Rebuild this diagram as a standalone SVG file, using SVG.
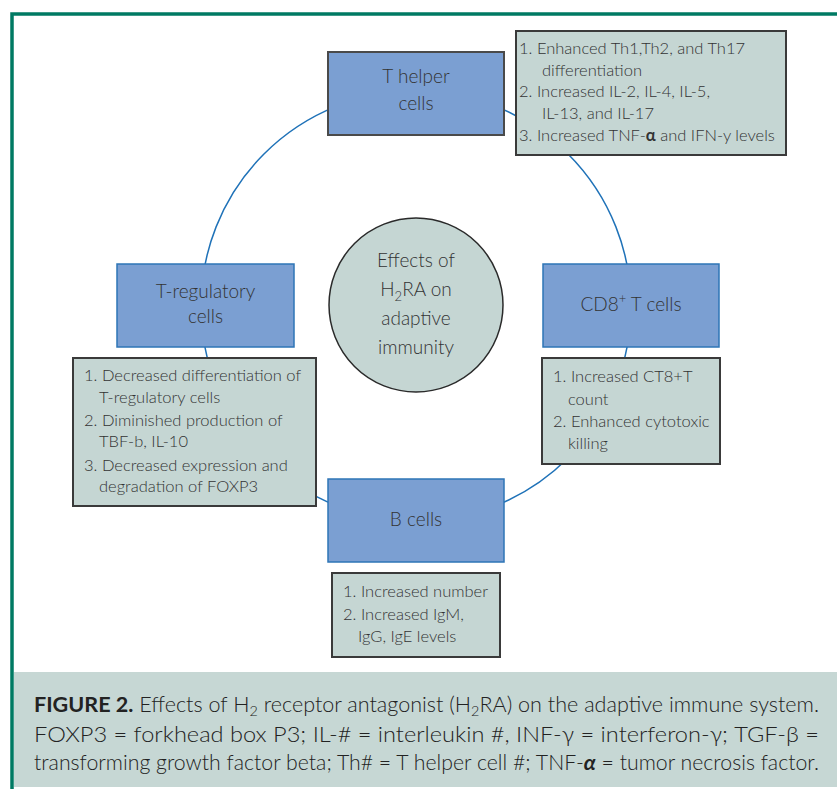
<svg xmlns="http://www.w3.org/2000/svg" width="837" height="789" viewBox="0 0 837 789">
<style>
.node{fill:#7b9fd2;stroke:#2e75b6;stroke-width:1.5}
.nodeD{fill:#7b9fd2;stroke:#4a4a4a;stroke-width:2}
.note{fill:#c5d6d3;stroke:#3a3a3a;stroke-width:2}
.t{font-family:Lato,"Open Sans","Liberation Sans",sans-serif;fill:#333;font-weight:300}
.big{font-size:19px;text-anchor:middle}
.sm{font-size:16.5px}
.cap{font-family:Lato,"Liberation Sans",sans-serif;font-size:21px;fill:#222;font-weight:300}
.ring{fill:none;stroke:#1f72b8;stroke-width:1.5}
</style>
<rect x="0" y="0" width="837" height="789" fill="#ffffff"/>
<rect x="14" y="672" width="823" height="115" fill="#c6d7d4"/>
<path d="M12 789 V14 H837" fill="none" stroke="#007a63" stroke-width="3.5"/>

<g id="connectors">
<circle class="ring" cx="416" cy="306" r="215"/>
</g>

<g id="center">
<circle cx="416" cy="305" r="87" fill="#c5d6d3" stroke="#2a2a2a" stroke-width="1.5"/>
<text class="t big" x="416" y="267">Effects of</text>
<text class="t big" x="416" y="296">H<tspan font-size="13" dy="5">2</tspan><tspan dy="-5">RA on</tspan></text>
<text class="t big" x="416" y="325">adaptive</text>
<text class="t big" x="416" y="354">immunity</text>
</g>

<g id="t-helper">
<rect class="nodeD" x="328" y="52" width="176" height="83"/>
<text class="t big" x="416" y="83">T helper</text>
<text class="t big" x="416" y="110">cells</text>
</g>

<g id="t-helper-effects">
<rect class="note" x="516" y="31" width="270" height="124"/>
<text class="t sm" x="519" y="54">1. Enhanced Th1,Th2, and Th17</text>
<text class="t sm" x="542" y="76">differentiation</text>
<text class="t sm" x="519" y="97">2. Increased IL-2, IL-4, IL-5,</text>
<text class="t sm" x="542" y="119">IL-13, and IL-17</text>
<text class="t sm" x="519" y="141">3. Increased TNF-<tspan font-weight="bold">α</tspan> and IFN-y levels</text>
</g>

<g id="cd8">
<rect class="node" x="543" y="264" width="176" height="83"/>
<text class="t big" x="631" y="311">CD8<tspan font-size="13" dy="-8">+</tspan><tspan dy="8"> T cells</tspan></text>
</g>

<g id="cd8-effects">
<rect class="note" x="542" y="358" width="178" height="106"/>
<text class="t sm" x="553" y="382">1. Increased CT8+T</text>
<text class="t sm" x="568" y="405">count</text>
<text class="t sm" x="553" y="427">2. Enhanced cytotoxic</text>
<text class="t sm" x="568" y="449">killing</text>
</g>

<g id="t-reg">
<rect class="node" x="117" y="264" width="177" height="83"/>
<text class="t big" x="205.5" y="298">T-regulatory</text>
<text class="t big" x="205.5" y="323">cells</text>
</g>

<g id="t-reg-effects">
<rect class="note" x="73" y="358" width="243" height="148"/>
<text class="t sm" x="84" y="381">1. Decreased differentiation of</text>
<text class="t sm" x="99" y="403">T-regulatory cells</text>
<text class="t sm" x="84" y="426">2. Diminished production of</text>
<text class="t sm" x="99" y="447">TBF-b, IL-10</text>
<text class="t sm" x="84" y="471">3. Decreased expression and</text>
<text class="t sm" x="99" y="492">degradation of FOXP3</text>
</g>

<g id="b-cells">
<rect class="node" x="328" y="479" width="176" height="83"/>
<text class="t big" x="416" y="526">B cells</text>
</g>

<g id="b-cells-effects">
<rect class="note" x="332" y="573" width="168" height="84"/>
<text class="t sm" x="343" y="597">1. Increased number</text>
<text class="t sm" x="343" y="620">2. Increased IgM,</text>
<text class="t sm" x="358" y="642">IgG, IgE levels</text>
</g>

<g id="caption">
<text class="cap" x="34" y="712" textLength="785" lengthAdjust="spacingAndGlyphs"><tspan font-weight="bold">FIGURE 2.</tspan> Effects of H<tspan font-size="14" dy="4">2</tspan><tspan dy="-4"> receptor antagonist (H</tspan><tspan font-size="14" dy="4">2</tspan><tspan dy="-4">RA) on the adaptive immune system.</tspan></text>
<text class="cap" x="34" y="742" textLength="785" lengthAdjust="spacingAndGlyphs">FOXP3 = forkhead box P3; IL-# = interleukin #, INF-γ = interferon-γ; TGF-β =</text>
<text class="cap" x="34" y="770" textLength="785" lengthAdjust="spacingAndGlyphs">transforming growth factor beta; Th# = T helper cell #; TNF-<tspan font-weight="bold" font-style="italic">α</tspan> = tumor necrosis factor.</text>
</g>
</svg>
